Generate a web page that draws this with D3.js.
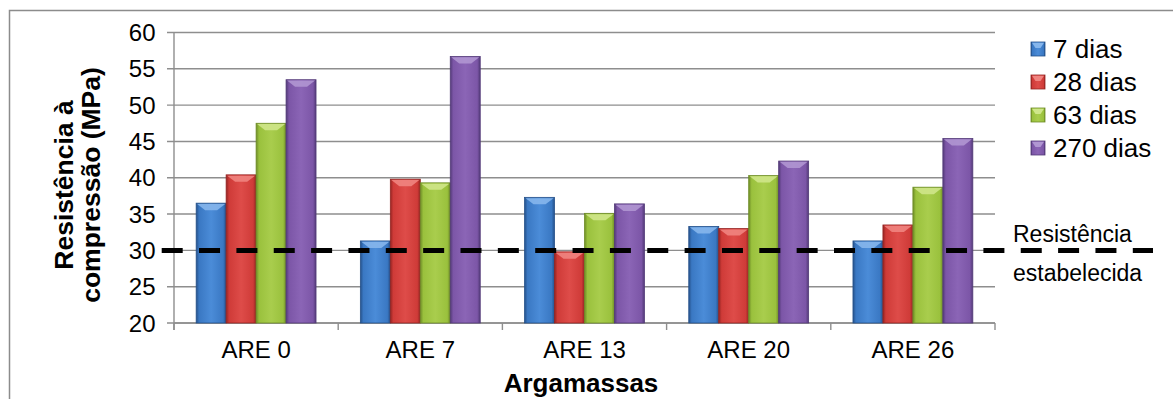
<!DOCTYPE html>
<html><head><meta charset="utf-8">
<script src="https://cdn.jsdelivr.net/npm/d3@7"></script>
<style>
body{margin:0;background:#fff}
svg{display:block}
text{font-family:Arial,"Liberation Sans",sans-serif;fill:#000}
</style>
</head><body>
<svg id="chart" width="1173" height="399"></svg>
<script>
// Compressive strength of mortars by curing age
const categories = ["ARE 0", "ARE 7", "ARE 13", "ARE 20", "ARE 26"];
const seriesNames = ["7 dias", "28 dias", "63 dias", "270 dias"];
const dias7   = [36.5, 31.3, 37.3, 33.3, 31.3];
const dias28  = [40.4, 39.8, 29.8, 33.0, 33.5];
const dias63  = [47.5, 39.3, 35.1, 40.3, 38.7];
const dias270 = [53.5, 56.7, 36.4, 42.3, 45.4];
const yTicks = [20, 25, 30, 35, 40, 45, 50, 55, 60];
const threshold = 30;
const thresholdLabel = ["Resistência", "estabelecida"];
const yTitle = ["Resistência à", "compressão (MPa)"];
const xTitle = "Argamassas";

const seriesValues = [dias7, dias28, dias63, dias270];

// bevel palette per series: edge, body, highlight, top facet
const palette = [
  {edge: "#25518a", body: "#3a78c3", light: "#4b8cd8", top: "#86b6ec"},
  {edge: "#952422", body: "#cf3b38", light: "#de4c49", top: "#f08480"},
  {edge: "#6e8c27", body: "#9ac13d", light: "#a9cd4d", top: "#cfe68a"},
  {edge: "#533a78", body: "#7c56a7", light: "#8b65b6", top: "#b096d2"}
];

const svg = d3.select("#chart");
const plot = {left: 174, right: 995, top: 32.5, bottom: 323};

const x0 = d3.scaleBand()
  .domain(categories)
  .range([plot.left, plot.right])
  .paddingInner(0.27)
  .paddingOuter(0.135);
const x1 = d3.scaleBand()
  .domain(seriesNames)
  .range([0, x0.bandwidth()]);
const y = d3.scaleLinear().domain([20, 60]).range([plot.bottom, plot.top]);

// gradients
const defs = svg.append("defs");
palette.forEach((p, i) => {
  const g = defs.append("linearGradient")
    .attr("id", "grad" + i)
    .attr("x1", 0).attr("x2", 1).attr("y1", 0).attr("y2", 0);
  [[0, p.edge], [0.1, p.body], [0.5, p.light], [0.9, p.body], [1, p.edge]]
    .forEach(([o, c]) => g.append("stop").attr("offset", o).attr("stop-color", c));
});

// outer frame
svg.append("rect")
  .attr("x", 9.5).attr("y", 10.5)
  .attr("width", 1300).attr("height", 600)
  .attr("fill", "none").attr("stroke", "#8c8c8c").attr("stroke-width", 1.5);

// gridlines + y tick marks
svg.append("g").selectAll("line")
  .data(yTicks)
  .join("line")
  .attr("x1", plot.left - 7).attr("x2", plot.right)
  .attr("y1", d => y(d)).attr("y2", d => y(d))
  .attr("stroke", "#8e8e8e").attr("stroke-width", 1.4);

// y tick labels
svg.append("g").selectAll("text")
  .data(yTicks)
  .join("text")
  .attr("x", 155.5)
  .attr("y", d => y(d))
  .attr("dy", "0.36em")
  .attr("text-anchor", "end")
  .attr("font-size", 24)
  .text(d => d);

// axes lines
svg.append("line")
  .attr("x1", plot.left).attr("x2", plot.left)
  .attr("y1", plot.top).attr("y2", plot.bottom + 7)
  .attr("stroke", "#8e8e8e").attr("stroke-width", 1.4);
svg.append("line")
  .attr("x1", plot.left).attr("x2", plot.right)
  .attr("y1", plot.bottom).attr("y2", plot.bottom)
  .attr("stroke", "#8e8e8e").attr("stroke-width", 1.4);

// category boundary ticks
const bounds = categories.map((c, i) => plot.left + i * x0.step());
bounds.push(plot.right);
svg.append("g").selectAll("line")
  .data(bounds)
  .join("line")
  .attr("x1", d => d).attr("x2", d => d)
  .attr("y1", plot.bottom).attr("y2", plot.bottom + 7)
  .attr("stroke", "#8e8e8e").attr("stroke-width", 1.4);

// bars
const barData = [];
categories.forEach((c, ci) => {
  seriesNames.forEach((s, si) => {
    barData.push({cat: c, series: s, si, value: seriesValues[si][ci]});
  });
});

const bars = svg.append("g").selectAll("g")
  .data(barData)
  .join("g");

bars.append("rect")
  .attr("x", d => x0(d.cat) + x1(d.series))
  .attr("y", d => y(d.value))
  .attr("width", x1.bandwidth())
  .attr("height", d => y(20) - y(d.value))
  .attr("fill", d => `url(#grad${d.si})`)
  .attr("stroke", d => palette[d.si].edge)
  .attr("stroke-width", 0.8);

// top bevel facet
bars.append("polygon")
  .attr("points", d => {
    const bx = x0(d.cat) + x1(d.series), w = x1.bandwidth(), by = y(d.value);
    return [[bx + 1, by + 0.8], [bx + w - 1, by + 0.8], [bx + w * 0.7, by + 7], [bx + w * 0.3, by + 7]]
      .map(p => p.join(",")).join(" ");
  })
  .attr("fill", d => palette[d.si].top)
  .attr("opacity", 0.9);

// category labels
svg.append("g").selectAll("text")
  .data(categories)
  .join("text")
  .attr("x", d => x0(d) + x0.bandwidth() / 2)
  .attr("y", 358)
  .attr("text-anchor", "middle")
  .attr("font-size", 24)
  .text(d => d);

// threshold line
svg.append("line")
  .attr("x1", 161.7).attr("x2", 1153)
  .attr("y1", y(threshold)).attr("y2", y(threshold))
  .attr("stroke", "#000").attr("stroke-width", 5)
  .attr("stroke-dasharray", "21,16.35");

svg.append("text")
  .attr("x", 1013).attr("y", 242)
  .attr("font-size", 23)
  .text(thresholdLabel[0]);
svg.append("text")
  .attr("x", 1013).attr("y", 281)
  .attr("font-size", 23)
  .text(thresholdLabel[1]);

// legend
const legend = svg.append("g").selectAll("g")
  .data(seriesNames)
  .join("g")
  .attr("transform", (d, i) => `translate(1031, ${49 + i * 33})`);
legend.append("rect")
  .attr("x", 0).attr("y", -7)
  .attr("width", 14).attr("height", 14)
  .attr("fill", (d, i) => `url(#grad${i})`)
  .attr("stroke", (d, i) => palette[i].edge)
  .attr("stroke-width", 0.8);
legend.append("polygon")
  .attr("points", "1,-6.2 13,-6.2 9.5,-1 4.5,-1")
  .attr("fill", (d, i) => palette[i].top);
legend.append("text")
  .attr("x", 22).attr("y", 0)
  .attr("dy", "0.36em")
  .attr("font-size", 26)
  .text(d => d);

// axis titles
svg.append("text")
  .attr("transform", "translate(73,185) rotate(-90)")
  .attr("text-anchor", "middle")
  .attr("font-size", 26.5).attr("font-weight", "bold")
  .text(yTitle[0]);
svg.append("text")
  .attr("transform", "translate(100,185) rotate(-90)")
  .attr("text-anchor", "middle")
  .attr("font-size", 26.5).attr("font-weight", "bold")
  .text(yTitle[1]);
svg.append("text")
  .attr("x", 581).attr("y", 392)
  .attr("text-anchor", "middle")
  .attr("font-size", 26).attr("font-weight", "bold")
  .text(xTitle);
</script>
</body></html>
